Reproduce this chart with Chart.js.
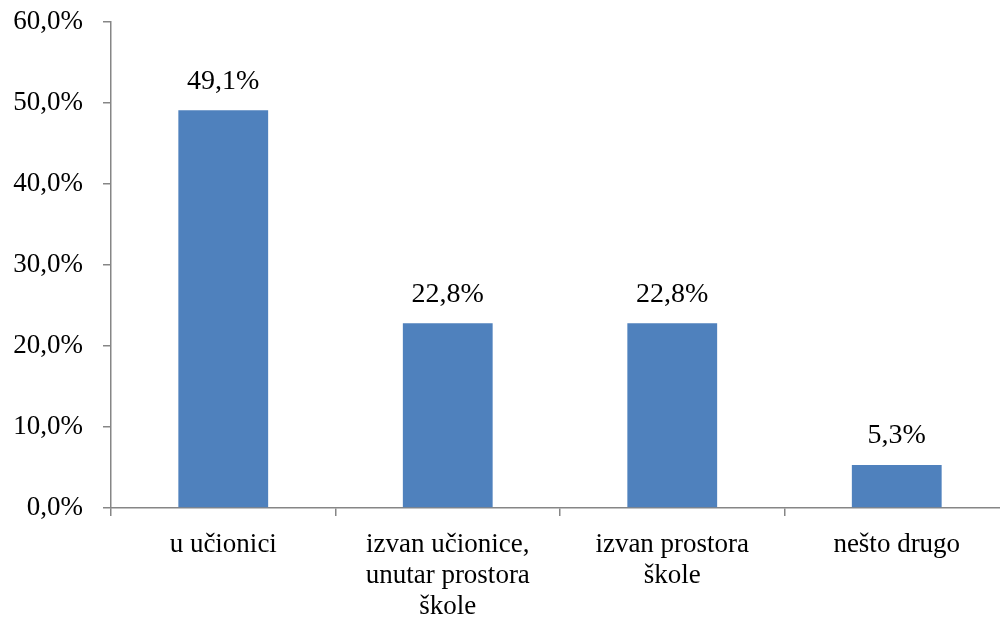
<!DOCTYPE html>
<html lang="hr">
<head>
<meta charset="utf-8"/>
<title>Mjesto</title>
<script src="https://cdn.jsdelivr.net/npm/chart.js"></script>
<style>
    html, body { margin: 0; padding: 0; background: #fff; overflow: hidden; }
    .wrap { width: 1010px; height: 622px; position: relative; }
  </style>
</head>
<body>
<div class="wrap"><canvas id="chart"></canvas></div>
<script>
    // podaci
    const categories = [
      'u učionici',
      ['izvan učionice,', 'unutar prostora', 'škole'],
      ['izvan prostora', 'škole'],
      'nešto drugo'
    ];
    const values = [49.1, 22.8, 22.8, 5.3];
    const yTicks = [0, 10, 20, 30, 40, 50, 60];

    const fmt = v => v.toFixed(1).replace('.', ',') + '%';
    const axisGrey = '#868686';
    const family = '"Liberation Serif", "Times New Roman", serif';
    const font = { family: family, size: 27 };

    // vrijednosti iznad stupaca
    const valueLabels = {
      id: 'valueLabels',
      afterDatasetsDraw(chart) {
        const ctx = chart.ctx;
        ctx.save();
        ctx.font = '28px ' + family;
        ctx.fillStyle = '#000';
        ctx.textAlign = 'center';
        ctx.textBaseline = 'middle';
        chart.getDatasetMeta(0).data.forEach((bar, i) => {
          ctx.fillText(fmt(values[i]), bar.x, bar.y - 29);
        });
        ctx.restore();
      }
    };

    new Chart(document.getElementById('chart'), {
      type: 'bar',
      data: {
        labels: categories,
        datasets: [{
          data: values,
          backgroundColor: '#4F81BD',
          categoryPercentage: 1,
          barPercentage: 0.4
        }]
      },
      options: {
        responsive: true,
        maintainAspectRatio: false,
        animation: false,
        layout: { padding: { top: 22, right: 1, left: 0, bottom: 0 } },
        plugins: { legend: { display: false }, tooltip: { enabled: false } },
        scales: {
          x: {
            afterFit: s => { s.height = 114; s.paddingLeft = 0; s.paddingRight = 0; },
            border: { color: axisGrey, width: 1.5 },
            grid: { drawOnChartArea: false, tickLength: 8, color: axisGrey, lineWidth: 1.5 },
            ticks: { color: '#000', font: { ...font, lineHeight: 1.15 }, padding: 13, maxRotation: 0, autoSkip: false }
          },
          y: {
            min: 0,
            max: 60,
            afterFit: s => { s.width = 111; s.paddingTop = 0; s.paddingBottom = 0; },
            afterBuildTicks: s => { s.ticks = yTicks.map(v => ({ value: v })); },
            border: { color: axisGrey, width: 1.5 },
            grid: { drawOnChartArea: false, tickLength: 8, color: axisGrey, lineWidth: 1.5 },
            ticks: { color: '#000', font: font, padding: 20, callback: v => fmt(v) }
          }
        }
      },
      plugins: [valueLabels]
    });
  </script>
</body>
</html>
